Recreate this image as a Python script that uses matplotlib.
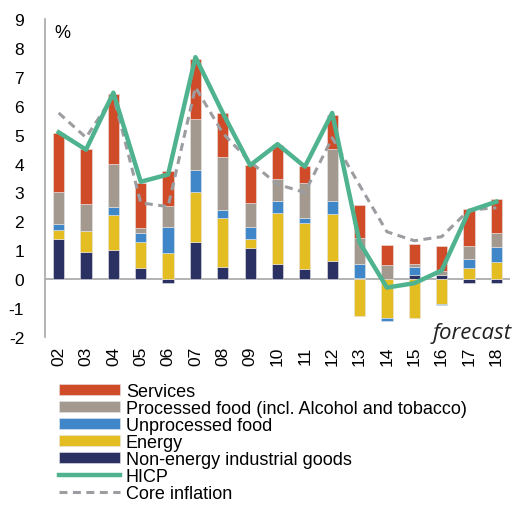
import matplotlib
matplotlib.use('Agg')
import matplotlib.pyplot as plt
import numpy as np

plt.rcParams['font.family'] = 'Liberation Sans'
plt.rcParams['font.size'] = 11.5
plt.rcParams['axes.unicode_minus'] = False

# data (percentage points)
years = ['02', '03', '04', '05', '06', '07', '08', '09', '10', '11',
         '12', '13', '14', '15', '16', '17', '18']
neig = [1.39, 0.93, 1.00, 0.38, -0.13, 1.30, 0.42, 1.07, 0.53, 0.36,
        0.63, 0.05, 0.00, 0.15, 0.15, -0.14, -0.14]
energy = [0.30, 0.73, 1.21, 0.92, 0.90, 1.73, 1.68, 0.32, 1.77, 1.57,
          1.62, -1.27, -1.34, -1.36, -0.85, 0.38, 0.58]
unproc = [0.22, 0.00, 0.30, 0.31, 0.90, 0.74, 0.29, 0.41, 0.40, 0.20,
          0.44, 0.48, -0.10, 0.27, -0.05, 0.32, 0.53]
proc = [1.12, 0.93, 1.49, 0.15, 0.73, 1.78, 1.85, 0.82, 0.78, 1.18,
        1.83, 0.91, 0.49, 0.10, 0.15, 0.46, 0.48]
serv = [2.03, 1.92, 2.40, 1.57, 1.22, 2.05, 1.51, 1.32, 1.15, 0.61,
        1.17, 1.12, 0.69, 0.70, 0.86, 1.26, 1.20]
hicp = [5.08, 4.48, 6.45, 3.37, 3.62, 7.68, 5.75, 3.94, 4.67, 3.89,
        5.75, 1.27, -0.29, -0.14, 0.30, 2.36, 2.68]
core = [5.75, 4.90, 6.35, 2.64, 2.51, 6.64, 5.05, 4.06, 3.28, 3.00,
        4.89, 3.25, 1.64, 1.33, 1.47, 2.39, 2.47]

series = [
    (neig, '#2b3263', 'Non-energy industrial goods'),
    (energy, '#e3bd22', 'Energy'),
    (unproc, '#3f87c8', 'Unprocessed food'),
    (proc, '#a3998f', 'Processed food (incl. Alcohol and tobacco)'),
    (serv, '#d04b28', 'Services'),
]

fig = plt.figure(figsize=(5.12, 5.06), dpi=100)
ax = fig.add_axes([45/512, 1-338/506, 465/512, 318/506])

x = np.arange(len(years))
pos_bottom = np.zeros(len(years))
neg_bottom = np.zeros(len(years))
handles = {}
for vals, col, lab in series:
    v = np.array(vals)
    bottom = np.where(v >= 0, pos_bottom, neg_bottom)
    b = ax.bar(x, v, 0.41, bottom=bottom, color=col, edgecolor='#e6e6e6',
               linewidth=0.4, label=lab, zorder=2)
    handles[lab] = b
    pos_bottom += np.where(v >= 0, v, 0)
    neg_bottom += np.where(v < 0, v, 0)

l_hicp, = ax.plot(x, hicp, color='#4fb38f', lw=3.2, label='HICP', zorder=4)
l_core, = ax.plot(x, core, color='#9c9da1', lw=2.2, ls=(0, (2.6, 1.8)),
                  label='Core inflation', zorder=3)

ax.axhline(0, color='#a6a6a6', lw=1.2, zorder=1)
ax.set_xlim(-0.5, len(years) - 0.5)
ax.set_ylim(-2, 9)
ax.set_yticks(np.arange(-2, 10, 1))
ax.set_xticks(x)
ax.set_xticklabels(years, rotation=90)
for s in ['top', 'right', 'bottom']:
    ax.spines[s].set_visible(False)
ax.spines['left'].set_color('#a6a6a6')
ax.spines['left'].set_linewidth(1.2)
ax.tick_params(axis='y', length=0, pad=15, labelsize=12.5)
ax.tick_params(axis='x', length=0, pad=6, labelsize=12.5)

ax.text(0.02, 0.985, '%', transform=ax.transAxes, ha='left', va='top',
        fontsize=13)
fig.text(512/512, 1-339/506, 'forecast', ha='right', va='baseline',
         fontsize=16, style='italic', family='Open Sans', color='#222222')

order = ['Services', 'Processed food (incl. Alcohol and tobacco)',
         'Unprocessed food', 'Energy', 'Non-energy industrial goods']
hl = [handles[k] for k in order] + [l_hicp, l_core]
labs = order + ['HICP', 'Core inflation']
fig.legend(hl, labs, loc='upper left', bbox_to_anchor=(59/512, 1-384/506),
           frameon=False, borderpad=0, borderaxespad=0, handlelength=3.4,
           handleheight=0.5, handletextpad=0.3, labelspacing=0.0,
           fontsize=13)

fig.savefig('out.png', dpi=100)
